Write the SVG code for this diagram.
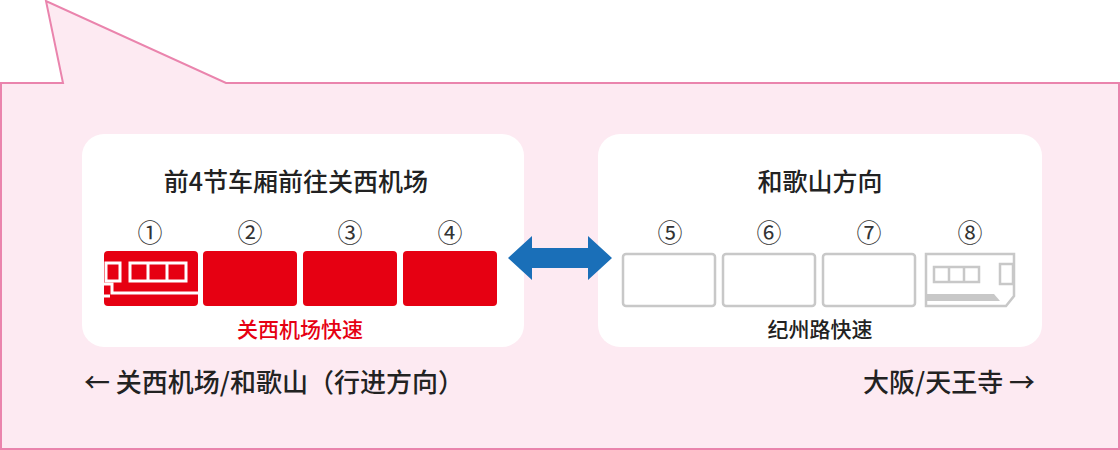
<svg xmlns="http://www.w3.org/2000/svg" width="1120" height="450" viewBox="0 0 1120 450">
<style>
text{font-family:"Noto Sans CJK SC","Noto Sans",sans-serif;font-weight:500;}
.t{font-size:25px;fill:#222;text-anchor:middle;}
.n{font-size:25px;fill:#333;text-anchor:middle;font-weight:400;}
.red{fill:#e60012;}
.g{fill:#fff;stroke:#c8c8c8;stroke-width:2.5;}
</style>
<g id="bubble"><path d="M1 83 H63 L46 1 L226 83 H1119 V449 H1 Z" fill="#fdeaf2" stroke="#ea84ad" stroke-width="2"/></g>
<g id="left-panel">
<rect x="82" y="134" width="442" height="213" rx="22" fill="#fff"/>
<text class="t" x="296" y="191">前4节车厢前往关西机场</text>
<text class="n" x="150" y="242">①</text><text class="n" x="250" y="242">②</text><text class="n" x="350" y="242">③</text><text class="n" x="450" y="242">④</text>
<rect class="red" x="104" y="251" width="94" height="55" rx="4"/>
<rect x="106" y="263" width="14" height="18" fill="none" stroke="#fff" stroke-width="3"/>
<rect x="130" y="263" width="56" height="18" fill="none" stroke="#fff" stroke-width="3"/>
<path d="M148 263V281M167 263V281" stroke="#fff" stroke-width="3"/>
<path d="M104 284H112V293L120 293 H198M104 296H110" fill="none" stroke="#fff" stroke-width="3"/>
<rect class="red" x="203" y="251" width="94" height="55" rx="4"/>
<rect class="red" x="303" y="251" width="94" height="55" rx="4"/>
<rect class="red" x="403" y="251" width="94" height="55" rx="4"/>
<text x="300" y="337" font-size="21" fill="#e60012" text-anchor="middle">关西机场快速</text>
</g>
<g id="right-panel">
<rect x="598" y="134" width="444" height="213" rx="22" fill="#fff"/>
<text class="t" x="820" y="191">和歌山方向</text>
<text class="n" x="670" y="242">⑤</text><text class="n" x="769" y="242">⑥</text><text class="n" x="869" y="242">⑦</text><text class="n" x="970" y="242">⑧</text>
<rect class="g" x="623" y="254" width="92" height="52" rx="3"/>
<rect class="g" x="723" y="254" width="92" height="52" rx="3"/>
<rect class="g" x="823" y="254" width="92" height="52" rx="3"/>
<path class="g" d="M926 254H1014V296L1006 306H926Z"/>
<rect x="934" y="267" width="45" height="15" fill="none" stroke="#c8c8c8" stroke-width="2.5"/>
<path d="M949 267V282M964 267V282" stroke="#c8c8c8" stroke-width="2.5"/>
<rect x="1000" y="264" width="13" height="20" fill="none" stroke="#c8c8c8" stroke-width="2.5"/>
<path d="M926 294H994L1000 301H926Z" fill="#c8c8c8"/>
<text x="820" y="337" font-size="21" fill="#222" text-anchor="middle">纪州路快速</text>
</g>
<g id="connectors">
<path d="M508 258L532 236V248H588V236L612 258L588 280V268H532V280Z" fill="#1a6fb8"/>
</g>
<g id="labels">
<text x="84" y="392" font-size="26" fill="#222">← 关西机场/和歌山（行进方向）</text>
<text x="1035" y="392" font-size="26" fill="#222" text-anchor="end">大阪/天王寺 →</text>
</g>
</svg>
